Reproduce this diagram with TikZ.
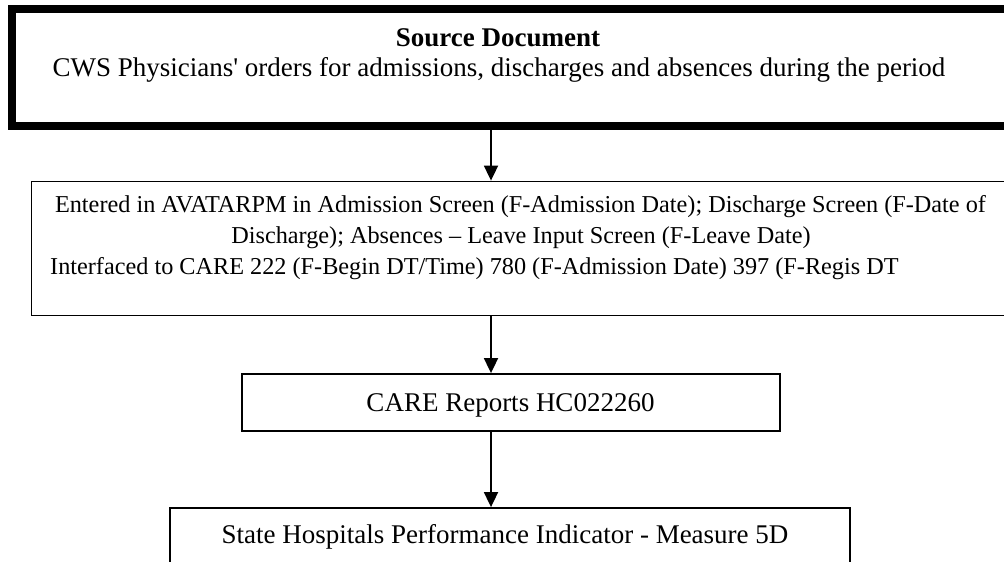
\documentclass[tikz,border=0pt]{standalone}
\usepackage{fontspec}
\setmainfont{Liberation Serif}
\usetikzlibrary{arrows.meta,fit}
\begin{document}
\begin{tikzpicture}[x=1bp,y=-1bp,
  bigtxt/.style={inner sep=0pt, font=\fontsize{27bp}{31bp}\selectfont},
  smalltxt/.style={inner sep=0pt, font=\fontsize{24.25bp}{31bp}\selectfont},
  thickbox/.style={draw, line width=8bp, inner sep=0pt},
  thinbox/.style={draw, line width=1.8bp, inner sep=0pt},
  flow/.style={line width=1.8bp, -{Triangle[length=15bp,width=14bp]}}]
\useasboundingbox (0,0) rectangle (1004,562);
\clip (0,0) rectangle (1004,562);
% boxes
\node[thickbox, fit={(12,9)(1016,126)}] (src) {};
\node[thinbox, fit={(31.5,181.5)(1016,315.5)}] (entry) {};
\node[thinbox, fit={(242,374)(780,431)}] (care) {};
\node[thinbox, fit={(170,508)(850,590)}] (state) {};
% texts
\node[bigtxt, anchor=base, font=\fontsize{27bp}{31bp}\selectfont\bfseries] (srct) at (498,47) {Source Document};
\node[bigtxt, anchor=base] (srcd) at (499,77) {CWS Physicians\textquotesingle{} orders for admissions, discharges and absences during the period};
\node[smalltxt, anchor=base] (e1) at (520.5,213) {Entered in AVATARPM in Admission Screen (F-Admission Date); Discharge Screen (F-Date of};
\node[smalltxt, anchor=base] (e2) at (521,244) {Discharge); Absences – Leave Input Screen (F-Leave Date)};
\node[smalltxt, anchor=base west] (e3) at (50,275) {Interfaced to CARE 222 (F-Begin DT/Time) 780 (F-Admission Date) 397 (F-Regis DT};
\node[bigtxt, anchor=base] (caret) at (510.5,411) {CARE Reports HC022260};
\node[bigtxt, anchor=base] (statet) at (505,543) {State Hospitals Performance Indicator - Measure 5D};
% connectors
\coordinate (ax) at (491,0);
\draw[flow] (src.south -| ax) -- (entry.north -| ax);
\draw[flow] (entry.south -| ax) -- (care.north -| ax);
\draw[flow] (care.south -| ax) -- (state.north -| ax);
\end{tikzpicture}
\end{document}
